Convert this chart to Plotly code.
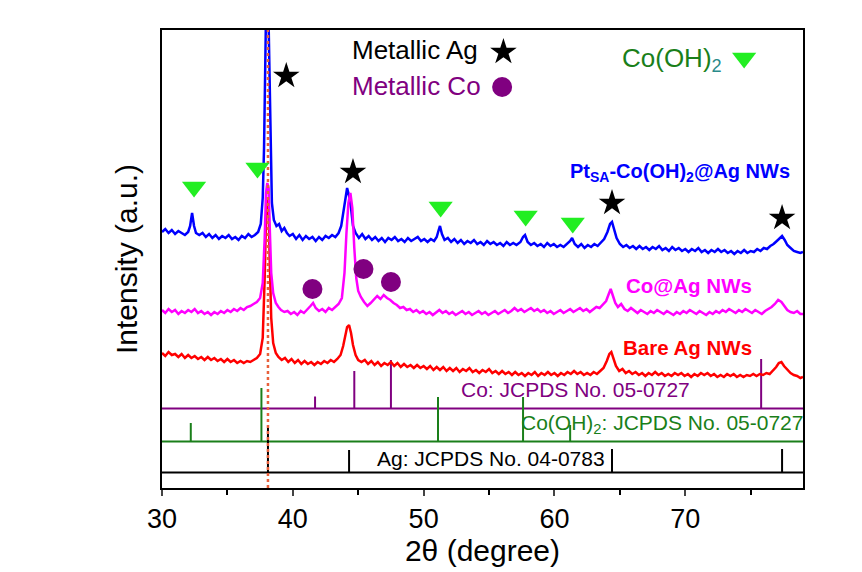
import plotly.graph_objects as go

# ---------------- data (intensity in arbitrary units) ----------------
blue_x = [30.00,30.25,30.50,30.75,31.00,31.25,31.50,31.75,32.00,32.15,32.30,32.45,32.60,32.85,33.10,33.35,33.60,33.85,34.10,34.35,34.60,34.85,35.10,35.35,35.60,35.85,36.10,36.35,36.60,36.85,37.10,37.35,37.55,37.70,37.80,37.90,37.98,38.10,38.20,38.30,38.40,38.55,38.75,38.95,39.15,39.35,39.55,39.75,40.00,40.25,40.50,40.75,41.00,41.25,41.50,41.75,42.00,42.25,42.50,42.75,43.00,43.25,43.50,43.70,43.90,44.05,44.15,44.30,44.45,44.60,44.80,45.05,45.30,45.55,45.80,46.05,46.30,46.55,46.80,47.05,47.30,47.55,47.80,48.05,48.30,48.55,48.80,49.05,49.30,49.55,49.80,50.05,50.30,50.55,50.80,51.00,51.15,51.25,51.40,51.60,51.85,52.10,52.35,52.60,52.85,53.10,53.35,53.60,53.85,54.10,54.35,54.60,54.85,55.10,55.35,55.60,55.85,56.10,56.35,56.60,56.85,57.10,57.40,57.60,57.75,57.95,58.20,58.45,58.70,58.95,59.20,59.45,59.70,59.95,60.20,60.45,60.70,60.95,61.20,61.35,61.55,61.80,62.05,62.30,62.55,62.80,63.05,63.30,63.55,63.80,64.05,64.25,64.40,64.55,64.75,65.00,65.25,65.50,65.75,66.00,66.25,66.50,66.75,67.00,67.25,67.50,67.75,68.00,68.25,68.50,68.75,69.00,69.25,69.50,69.75,70.00,70.25,70.50,70.75,71.00,71.25,71.50,71.75,72.00,72.25,72.50,72.75,73.00,73.25,73.50,73.75,74.00,74.25,74.50,74.75,75.00,75.25,75.50,75.75,76.00,76.25,76.50,76.75,77.00,77.20,77.40,77.60,77.80,78.05,78.30,78.55,78.80,79.00]
blue_y = [256,259,255,258,254,257,255,253,256,262,275,262,255,253,255,251,254,250,253,249,252,250,253,249,251,248,252,250,254,251,253,256,264,290,340,420,500,500,420,330,285,268,262,264,257,260,255,252,254,249,253,248,252,249,251,247,251,248,252,250,253,251,255,262,280,296,300,292,280,262,255,250,254,249,252,248,251,247,250,246,250,248,251,247,249,246,250,247,249,251,247,249,246,249,247,251,258,262,254,248,250,246,249,245,248,244,247,245,248,244,246,243,247,244,246,243,245,242,246,243,245,243,246,251,253,246,243,245,242,244,241,245,242,244,241,243,241,244,247,250,244,241,244,240,243,241,244,242,245,249,256,264,266,258,250,244,241,243,240,242,239,242,239,241,238,241,239,242,238,240,237,241,238,240,237,239,236,239,237,240,236,238,235,238,236,239,236,238,235,237,234,237,235,238,235,237,236,239,237,240,239,242,244,247,250,252,248,243,240,237,236,235,236]

mag_x = [30.00,30.25,30.50,30.75,31.00,31.25,31.50,31.75,32.00,32.25,32.50,32.75,33.00,33.25,33.50,33.75,34.00,34.25,34.50,34.75,35.00,35.25,35.50,35.75,36.00,36.25,36.50,36.75,37.00,37.25,37.50,37.70,37.85,37.95,38.05,38.15,38.25,38.35,38.50,38.70,38.90,39.10,39.35,39.60,39.85,40.10,40.35,40.60,40.85,41.10,41.35,41.55,41.75,42.00,42.25,42.50,42.75,43.00,43.25,43.50,43.75,43.95,44.10,44.25,44.40,44.55,44.70,44.85,45.00,45.20,45.45,45.70,45.95,46.20,46.45,46.70,46.95,47.20,47.45,47.70,47.95,48.20,48.45,48.70,48.95,49.20,49.45,49.70,49.95,50.20,50.45,50.70,50.95,51.20,51.45,51.70,51.95,52.20,52.45,52.70,52.95,53.20,53.45,53.70,53.95,54.20,54.45,54.70,54.95,55.20,55.45,55.70,55.95,56.20,56.45,56.70,56.95,57.20,57.45,57.70,57.95,58.20,58.45,58.70,58.95,59.20,59.45,59.70,59.95,60.20,60.45,60.70,60.95,61.20,61.45,61.70,61.95,62.20,62.45,62.70,62.95,63.20,63.45,63.70,63.95,64.15,64.30,64.45,64.65,64.85,65.10,65.35,65.60,65.85,66.10,66.35,66.60,66.85,67.10,67.35,67.60,67.85,68.10,68.35,68.60,68.85,69.10,69.35,69.60,69.85,70.10,70.35,70.60,70.85,71.10,71.35,71.60,71.85,72.10,72.35,72.60,72.85,73.10,73.35,73.60,73.85,74.10,74.35,74.60,74.85,75.10,75.35,75.60,75.85,76.10,76.35,76.60,76.85,77.10,77.35,77.55,77.80,78.05,78.30,78.55,78.80,79.00]
mag_y = [178,175,179,176,178,174,177,175,178,176,179,175,177,174,176,173,176,174,177,175,178,176,179,177,180,178,181,182,184,186,190,205,250,295,305,300,255,215,195,185,181,178,176,177,174,176,173,177,175,178,182,185,180,177,179,176,180,178,181,184,190,215,255,285,295,280,240,210,197,191,186,182,185,188,192,189,193,190,188,185,183,180,181,178,179,176,178,175,177,174,176,173,176,178,175,177,174,176,173,175,177,174,176,173,175,177,174,176,173,175,177,174,176,178,175,177,180,177,179,176,178,180,177,179,176,178,175,177,174,176,178,175,177,179,176,178,180,177,179,176,179,181,180,183,187,194,199,193,185,181,184,179,177,180,177,175,178,176,174,177,175,178,176,174,177,175,173,176,174,177,175,178,176,174,177,175,173,176,174,177,175,178,176,179,177,175,178,176,179,177,175,178,176,174,177,179,181,184,188,186,182,178,176,175,177,174,174]

red_x = [30.00,30.25,30.50,30.75,31.00,31.25,31.50,31.75,32.00,32.25,32.50,32.75,33.00,33.25,33.50,33.75,34.00,34.25,34.50,34.75,35.00,35.25,35.50,35.75,36.00,36.25,36.50,36.75,37.00,37.25,37.50,37.70,37.85,37.95,38.05,38.15,38.25,38.35,38.50,38.70,38.90,39.15,39.40,39.65,39.90,40.15,40.40,40.65,40.90,41.15,41.40,41.65,41.90,42.15,42.40,42.65,42.90,43.15,43.40,43.65,43.85,44.00,44.15,44.30,44.45,44.60,44.80,45.00,45.25,45.50,45.75,46.00,46.25,46.50,46.75,47.00,47.25,47.50,47.75,48.00,48.25,48.50,48.75,49.00,49.25,49.50,49.75,50.00,50.25,50.50,50.75,51.00,51.25,51.50,51.75,52.00,52.25,52.50,52.75,53.00,53.25,53.50,53.75,54.00,54.25,54.50,54.75,55.00,55.25,55.50,55.75,56.00,56.25,56.50,56.75,57.00,57.25,57.50,57.75,58.00,58.25,58.50,58.75,59.00,59.25,59.50,59.75,60.00,60.25,60.50,60.75,61.00,61.25,61.50,61.75,62.00,62.25,62.50,62.75,63.00,63.25,63.50,63.75,64.00,64.20,64.35,64.50,64.70,64.95,65.20,65.45,65.70,65.95,66.20,66.45,66.70,66.95,67.20,67.45,67.70,67.95,68.20,68.45,68.70,68.95,69.20,69.45,69.70,69.95,70.20,70.45,70.70,70.95,71.20,71.45,71.70,71.95,72.20,72.45,72.70,72.95,73.20,73.45,73.70,73.95,74.20,74.45,74.70,74.95,75.20,75.45,75.70,75.95,76.20,76.45,76.70,76.95,77.15,77.35,77.55,77.80,78.05,78.30,78.55,78.80,79.00]
red_y = [135,132,136,133,134,131,134,130,133,130,132,129,131,128,131,128,130,127,129,126,129,126,128,125,127,125,127,126,128,130,134,150,210,270,290,280,220,170,145,135,131,128,130,126,129,125,128,124,127,124,126,123,126,124,127,125,128,126,129,133,142,152,161,163,155,143,133,128,126,128,124,127,123,126,122,125,123,126,122,125,121,124,121,123,120,123,120,122,119,122,118,121,118,121,117,120,117,120,116,119,117,120,116,118,115,118,116,119,115,117,114,117,114,116,113,116,113,115,112,115,113,116,112,115,113,116,113,115,112,115,113,116,114,117,114,116,113,115,113,116,114,117,120,127,134,136,130,122,117,119,115,117,114,116,113,115,112,115,113,116,113,115,112,114,112,115,113,115,112,114,111,114,112,115,113,115,112,114,111,113,111,114,112,114,111,113,111,113,112,114,112,114,113,115,114,117,121,125,126,122,118,115,113,112,110,111]

# reference patterns: stick positions, stick tops, baseline level
co_pos = [41.7, 44.7, 47.5, 75.8]
co_top = [91.5, 117, 128, 129]
co_base = 79.5
coh_pos = [32.2, 37.6, 51.1, 57.6, 61.2]
coh_top = [65, 100, 91, 91, 63]
coh_base = 46.5
ag_pos = [38.1, 44.3, 64.4, 77.4]
ag_top = [60, 38, 39, 39]
ag_base = 15.5

# peak markers
star_x = [39.5, 44.6, 64.4, 77.4, 56.1]
star_y = [412, 316, 285, 270, 436]
tri_x = [32.45, 37.3, 51.3, 57.8, 61.4, 74.5]
tri_y = [301, 320, 281, 272, 265, 430]
circ_x = [41.5, 45.4, 47.5, 56.0]
circ_y = [199, 219, 206, 401]

x_range = [30, 79]
y_range = [0, 458]
dot_x = 38.1

FONT = "Liberation Sans, Arial, sans-serif"
PURPLE = "#800080"
GREEN = "#1a7f1a"

fig = go.Figure()

def ref_trace(pos, top, base, color):
    xs, ys = [x_range[0], x_range[1], None], [base, base, None]
    for p, t in zip(pos, top):
        xs += [p, p, None]
        ys += [base, t, None]
    fig.add_trace(go.Scatter(x=xs, y=ys, mode="lines",
                             line=dict(color=color, width=2), hoverinfo="skip"))

ref_trace(co_pos, co_top, co_base, PURPLE)
ref_trace(coh_pos, coh_top, coh_base, GREEN)
ref_trace(ag_pos, ag_top, ag_base, "black")

fig.add_trace(go.Scatter(x=blue_x, y=blue_y, mode="lines", line=dict(color="#0000ff", width=2.5)))
fig.add_trace(go.Scatter(x=red_x, y=red_y, mode="lines", line=dict(color="#ff0000", width=2.5)))
fig.add_trace(go.Scatter(x=mag_x, y=mag_y, mode="lines", line=dict(color="#ff00ff", width=2.5)))

fig.add_trace(go.Scatter(x=[dot_x, dot_x], y=[y_range[0], y_range[1]], mode="lines",
                         line=dict(color="#e8603c", width=2.5, dash="dot")))

fig.add_trace(go.Scatter(x=star_x, y=star_y, mode="markers",
                         marker=dict(symbol="star", size=20, color="black", line=dict(width=0))))
fig.add_trace(go.Scatter(x=tri_x, y=tri_y, mode="markers",
                         marker=dict(symbol="triangle-down", size=21, color="#22ee22", line=dict(width=0))))
fig.add_trace(go.Scatter(x=circ_x, y=circ_y, mode="markers",
                         marker=dict(symbol="circle", size=20, color=PURPLE, line=dict(width=0))))

def note(x, y, text, color, size, bold=False):
    t = f"<b>{text}</b>" if bold else text
    fig.add_annotation(x=x, y=y, text=t, showarrow=False, xanchor="left", yanchor="middle",
                       font=dict(family=FONT, size=size, color=color))

note(44.4, 438, "Metallic Ag", "black", 26)
note(44.4, 402, "Metallic Co", PURPLE, 26)
note(65.0, 429, "Co(OH)<sub><span style='color:#2a8a8a'>2</span></sub>", GREEN, 26)
note(61.0, 316, "Pt<sub>SA</sub>-Co(OH)<sub>2</sub>@Ag NWs", "#0000ff", 20, bold=True)
note(65.3, 203, "Co@Ag NWs", "#ff00ff", 20.5, bold=True)
note(65.1, 141, "Bare Ag NWs", "#ff0000", 20.5, bold=True)
note(52.7, 99, "Co: JCPDS No. 05-0727", PURPLE, 21)
note(57.3, 64, "Co(OH)<sub>2</sub>: JCPDS No. 05-0727", GREEN, 21)
note(46.3, 30, "Ag: JCPDS No. 04-0783", "black", 21)

fig.update_layout(
    width=862, height=572,
    margin=dict(l=162, r=59, t=30, b=84),
    paper_bgcolor="white", plot_bgcolor="white",
    showlegend=False,
    font=dict(family=FONT, color="black"),
)
fig.update_xaxes(range=x_range, tickvals=[30, 40, 50, 60, 70], ticks="outside", ticklen=6, tickwidth=2,
                 tickfont=dict(size=27), showline=True, linewidth=2, linecolor="black", mirror=True,
                 showgrid=False, zeroline=False,
                 minor=dict(tickvals=[35, 45, 55, 65, 75], ticks="outside", ticklen=5, tickwidth=2, tickcolor="black"),
                 title=dict(text="2\u03b8 (degree)", font=dict(size=30), standoff=4))
fig.update_yaxes(range=y_range, showticklabels=False, ticks="", showline=True, linewidth=2,
                 linecolor="black", mirror=True, showgrid=False, zeroline=False,
                 title=dict(text="Intensity (a.u.)", font=dict(size=30), standoff=14))

fig.write_html("out.html", config={"displayModeBar": False},
               post_script="document.body.style.margin='0px';")
